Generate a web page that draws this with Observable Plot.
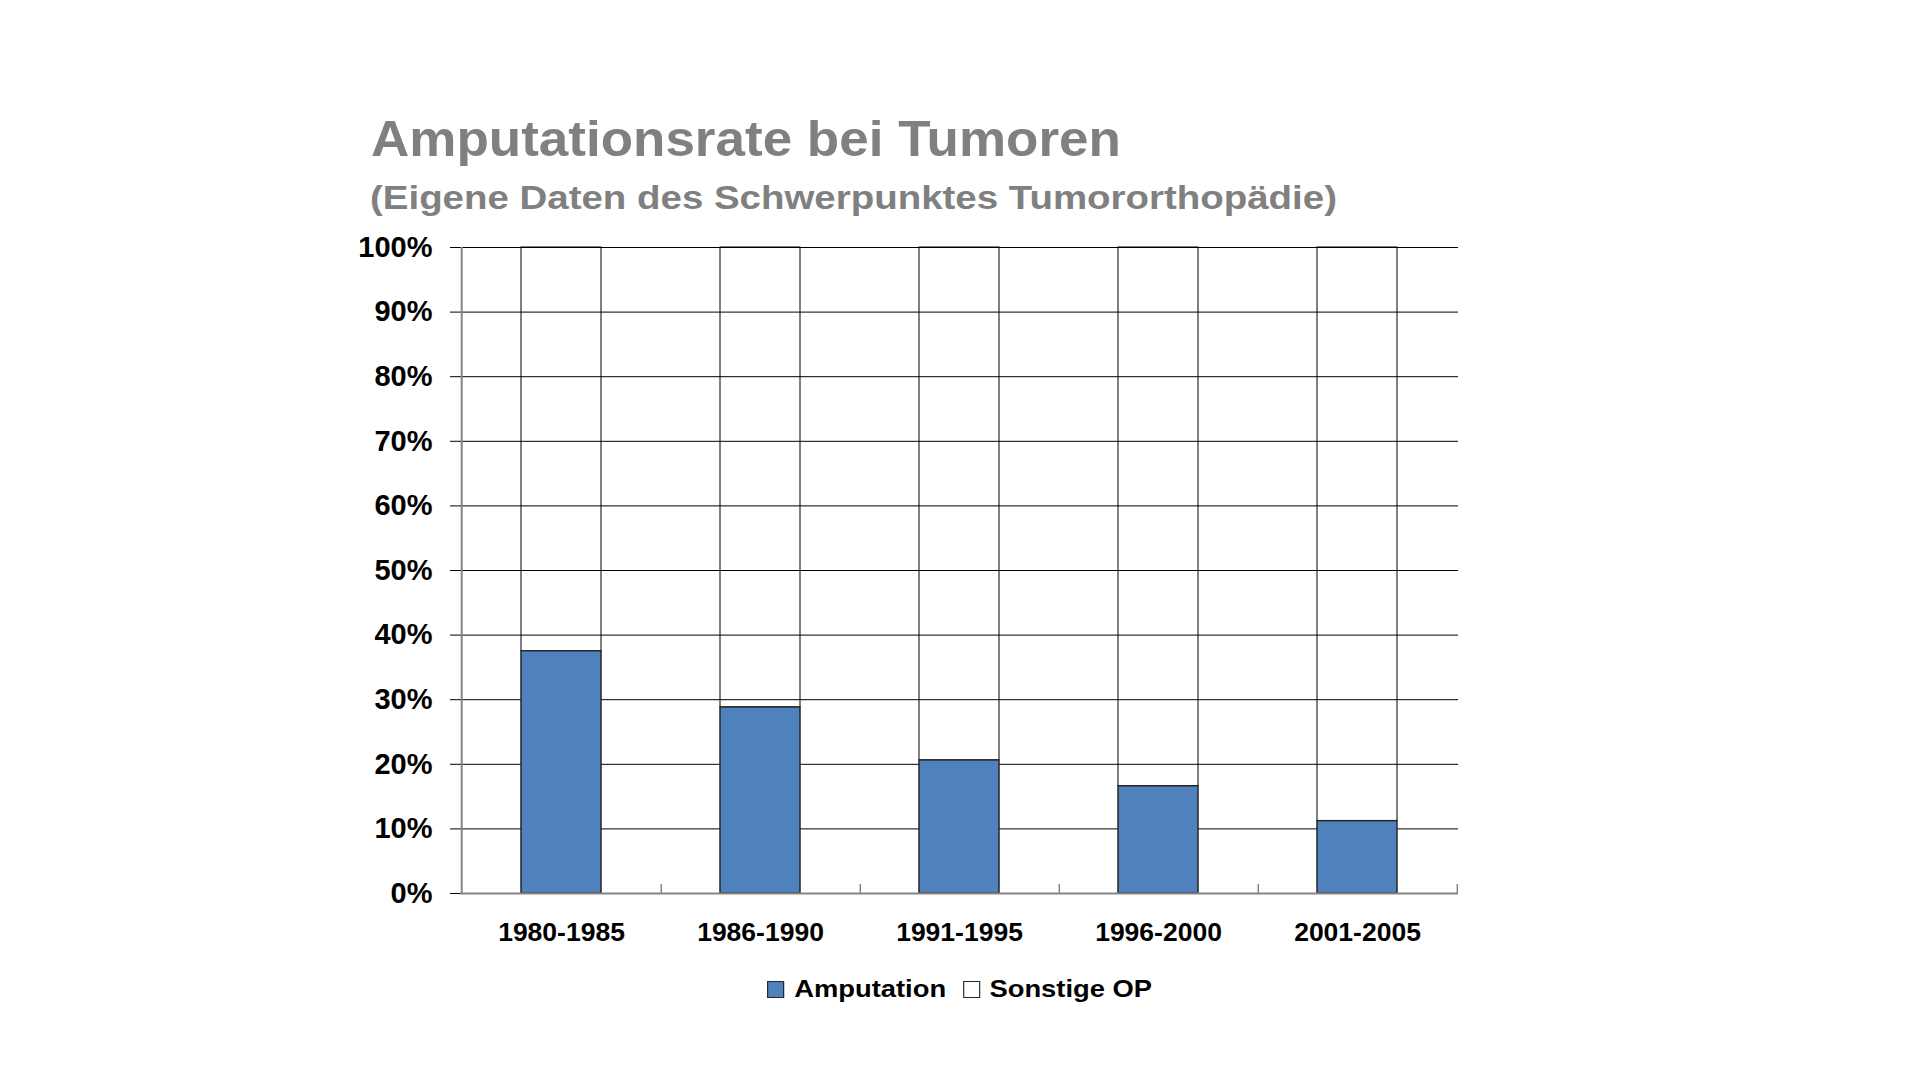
<!DOCTYPE html>
<html>
<head>
<meta charset="utf-8">
<script src="https://cdn.jsdelivr.net/npm/d3@7"></script>
<script src="https://cdn.jsdelivr.net/npm/@observablehq/plot@0.6"></script>
<style>
  html, body { margin: 0; padding: 0; background: #fff; }
  #page { position: relative; width: 1920px; height: 1080px; overflow: hidden;
          font-family: "Liberation Sans", Arial, sans-serif; }
  #chart { position: absolute; left: 0; top: 0; }
  .t { position: absolute; white-space: nowrap; font-weight: bold; color: #808080; transform-origin: 0 0; }
  #title { left: 371px; top: 114px; font-size: 50px; line-height: 50px; transform: scaleX(1.06); }
  #subtitle { left: 370px; top: 181px; font-size: 33px; line-height: 33px; transform: scaleX(1.165); }
  #legend { position: absolute; left: 0; top: 975px; width: 1920px; height: 28px;
            display: flex; justify-content: center; align-items: center;
            transform-origin: 962px 50%; transform: scaleX(1.14);
            font-weight: bold; font-size: 24px; color: #000; }
  .sw { width: 15px; height: 17px; box-sizing: border-box; border: 1px solid #262626; margin-right: 8.5px; }
  .item { display: flex; align-items: center; }
  .item + .item { margin-left: 14.5px; }
</style>
</head>
<body>
<div id="page">
  <div id="chart"></div>
  <div class="t" id="title"></div>
  <div class="t" id="subtitle"></div>
  <div id="legend"></div>
</div>
<script>
const titleText = "Amputationsrate bei Tumoren";
const subtitleText = "(Eigene Daten des Schwerpunktes Tumororthopädie)";
const periods = ["1980-1985", "1986-1990", "1991-1995", "1996-2000", "2001-2005"];
const amputation = [37.5, 28.8, 20.6, 16.6, 11.2];
const sonstige = [62.5, 71.2, 79.4, 83.4, 88.8];
const seriesNames = ["Amputation", "Sonstige OP"];
const seriesColors = ["#4F81BD", "#FFFFFF"];
const yTicks = [0, 10, 20, 30, 40, 50, 60, 70, 80, 90, 100];

document.getElementById("title").textContent = titleText;
document.getElementById("subtitle").textContent = subtitleText;

const rows = periods.map((p, i) => ({period: p, amp: amputation[i], son: sonstige[i]}));

const W = 1920, H = 1080, mL = 460, mR = 462, mT = 247, mB = 187;
const step = (W - mL - mR) / periods.length;
const pxPerPct = (H - mT - mB) / 100;

const chart = Plot.plot({
  width: W, height: H,
  marginLeft: mL, marginRight: mR, marginTop: mT, marginBottom: mB,
  style: {fontFamily: "'Liberation Sans', Arial, sans-serif", fontWeight: "bold", color: "#000", background: "transparent", overflow: "visible"},
  x: {type: "band", domain: periods, paddingInner: 0.6, paddingOuter: 0.3},
  y: {domain: [0, 100]},
  marks: [
    Plot.barY(rows, {x: "period", y1: "amp", y2: d => d.amp + d.son, fill: seriesColors[1], stroke: "#000", strokeWidth: 1}),
    Plot.gridY(yTicks.filter(t => t > 0), {stroke: "#000", strokeOpacity: 1, strokeWidth: 1}),
    Plot.barY(rows, {x: "period", y1: 0, y2: "amp", fill: seriesColors[0], stroke: "#262626", strokeWidth: 1.5}),
    Plot.ruleY([0], {stroke: "#868686", strokeWidth: 2}),
    Plot.ruleX([periods[0]], {x: d => d, dx: -step / 2, y1: 0, y2: 100, stroke: "#868686", strokeWidth: 2}),
    Plot.ruleX(periods, {x: d => d, dx: step / 2, y1: 0, y2: 9 / pxPerPct, stroke: "#868686", strokeWidth: 1.5}),
    Plot.axisY({ticks: yTicks, tickSize: 10, tickPadding: 18, tickFormat: d => d + "%", fontSize: 29, label: null, stroke: "#000"}),
    Plot.axisX({tickSize: 0, tickPadding: 29, fontSize: 26.5, label: null})
  ]
});
document.getElementById("chart").appendChild(chart);

const legend = document.getElementById("legend");
seriesNames.forEach((name, i) => {
  const item = document.createElement("div");
  item.className = "item";
  const sw = document.createElement("div");
  sw.className = "sw";
  sw.style.background = seriesColors[i];
  const label = document.createElement("span");
  label.textContent = name;
  item.appendChild(sw);
  item.appendChild(label);
  legend.appendChild(item);
});
</script>
</body>
</html>
